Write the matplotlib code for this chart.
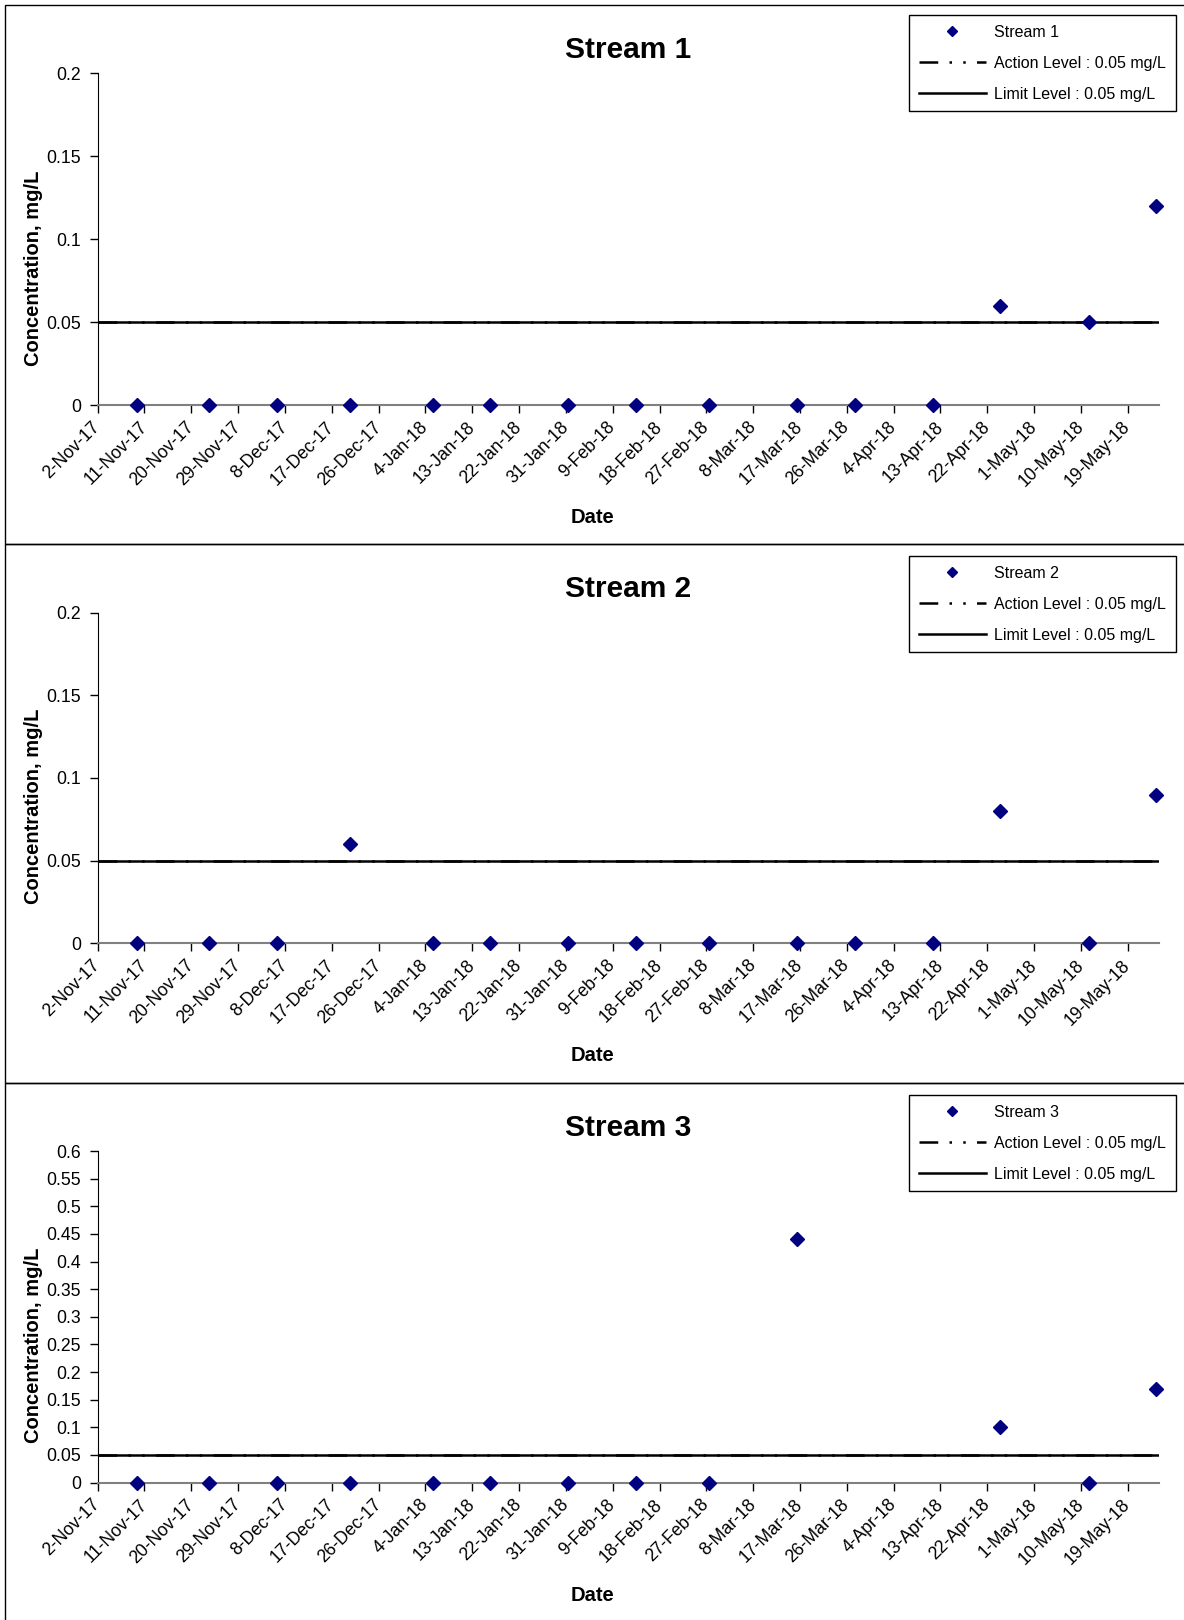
from datetime import datetime

import matplotlib
matplotlib.use("Agg")
import matplotlib.pyplot as plt
from matplotlib.lines import Line2D
from matplotlib.patches import Rectangle
from matplotlib.ticker import MultipleLocator, FuncFormatter
from matplotlib.transforms import ScaledTranslation
import pandas as pd

plt.rcParams["font.family"] = ["Liberation Sans", "DejaVu Sans"]

# ----------------------------- Data -----------------------------
tick_labels = ["2-Nov-17", "11-Nov-17", "20-Nov-17", "29-Nov-17", "8-Dec-17",
               "17-Dec-17", "26-Dec-17", "4-Jan-18", "13-Jan-18", "22-Jan-18",
               "31-Jan-18", "9-Feb-18", "18-Feb-18", "27-Feb-18", "8-Mar-18",
               "17-Mar-18", "26-Mar-18", "4-Apr-18", "13-Apr-18", "22-Apr-18",
               "1-May-18", "10-May-18", "19-May-18"]
axis_start = "2-Nov-17"
axis_end = "25-May-18"

dates_s12 = ["9-Nov-17", "23-Nov-17", "6-Dec-17", "20-Dec-17", "5-Jan-18",
             "16-Jan-18", "31-Jan-18", "13-Feb-18", "27-Feb-18", "16-Mar-18",
             "27-Mar-18", "11-Apr-18", "24-Apr-18", "11-May-18", "24-May-18"]
stream1 = [0, 0, 0, 0, 0, 0, 0, 0, 0, 0, 0, 0, 0.06, 0.05, 0.12]
stream2 = [0, 0, 0, 0.06, 0, 0, 0, 0, 0, 0, 0, 0, 0.08, 0, 0.09]

dates_s3 = ["9-Nov-17", "23-Nov-17", "6-Dec-17", "20-Dec-17", "5-Jan-18",
            "16-Jan-18", "31-Jan-18", "13-Feb-18", "27-Feb-18", "16-Mar-18",
            "24-Apr-18", "11-May-18", "24-May-18"]
stream3 = [0, 0, 0, 0, 0, 0, 0, 0, 0, 0.44, 0.10, 0, 0.17]

action_level = 0.05
limit_level = 0.05
y_max = [0.2, 0.2, 0.6]


def to_dt(labels):
    return [datetime.strptime(s, "%d-%b-%y") for s in labels]


# Excel date axis puts each point in the middle of its day slot
half_day = pd.Timedelta(hours=12)
panels = [
    ("Stream 1", [d + half_day for d in to_dt(dates_s12)], stream1),
    ("Stream 2", [d + half_day for d in to_dt(dates_s12)], stream2),
    ("Stream 3", [d + half_day for d in to_dt(dates_s3)], stream3),
]

# ----------------------------- Figure -----------------------------
W, H = 1184, 1620
fig = plt.figure(figsize=(W / 100, H / 100), dpi=100)

# axes boxes in pixels: (left, top, right, bottom)
ax_px = [(97.6, 73.4, 1159, 405), (97.6, 612.7, 1159, 943.3), (97.6, 1151, 1159, 1482.6)]
panel_px = [(4.7, 5.3, 543.7), (4.7, 543.7, 1083), (4.7, 1083, 1625)]
legend_top = [15.3, 556, 1095]

navy = "#000080"
dashdotdot = (0, (7.5, 4.5, 1, 4.5, 1, 4.5))
ticks = to_dt(tick_labels)
shift = ScaledTranslation(3 / 100, 0, fig.dpi_scale_trans)

for i, (name, xs, ys) in enumerate(panels):
    l, t, r, b = ax_px[i]
    ax = fig.add_axes([l / W, 1 - b / H, (r - l) / W, (b - t) / H])

    ax.axhline(action_level, color="black", lw=1.8, ls=dashdotdot)
    ax.axhline(limit_level, color="black", lw=1.8)
    ax.plot(xs, ys, ls="none", marker="D", ms=7, color=navy, mec=navy, clip_on=False, zorder=5)

    ax.set_xlim(to_dt([axis_start])[0], to_dt([axis_end])[0])
    ax.set_ylim(0, y_max[i])
    ax.set_xticks(ticks)
    ax.set_xticklabels(tick_labels, rotation=45, ha="right", va="center",
                       rotation_mode="anchor", fontsize=12.7)
    for lab in ax.get_xticklabels():
        lab.set_transform(lab.get_transform() + shift)
    ax.yaxis.set_major_locator(MultipleLocator(0.05))
    ax.yaxis.set_major_formatter(FuncFormatter(lambda v, p: f"{round(v, 4):g}"))
    ax.tick_params(axis="y", labelsize=12.7, pad=6, length=6, width=1, direction="out")
    ax.tick_params(axis="x", pad=8, length=6, width=1, direction="out")

    for s in ("top", "right"):
        ax.spines[s].set_visible(False)
    ax.spines["left"].set_color("black")
    ax.spines["bottom"].set_color("#808080")
    ax.spines["bottom"].set_linewidth(1.5)

    ax.set_title(name, fontsize=21.5, fontweight="bold", pad=11)
    ax.set_ylabel("Concentration, mg/L", fontsize=14.5, fontweight="bold")
    ax.yaxis.set_label_coords(-0.0515, 0.413)
    ax.set_xlabel("Date", fontsize=14.5, fontweight="bold", va="top")
    ax.xaxis.set_label_coords(0.466, -0.311)

    handles = [
        Line2D([], [], ls="none", marker="D", ms=5, color=navy),
        Line2D([], [], color="black", lw=1.8, ls=dashdotdot),
        Line2D([], [], color="black", lw=1.8),
    ]
    labels = [name, "Action Level : 0.05 mg/L", "Limit Level : 0.05 mg/L"]
    leg = ax.legend(handles, labels, loc="upper left",
                    bbox_to_anchor=(909 / W, 1 - legend_top[i] / H),
                    bbox_transform=fig.transFigure, fontsize=11.5, frameon=True,
                    fancybox=False, edgecolor="black", framealpha=1,
                    handlelength=4.2, handletextpad=0.55, labelspacing=1.0,
                    borderpad=0.6, borderaxespad=0)
    leg.get_frame().set_linewidth(1.0)

    # chart area border
    x0, ptop, pbot = panel_px[i]
    fig.add_artist(Rectangle((x0 / W, 1 - pbot / H), 1.1, (pbot - ptop) / H,
                             transform=fig.transFigure, fill=False,
                             ec="black", lw=1.0))

fig.savefig("out.png", dpi=100)
